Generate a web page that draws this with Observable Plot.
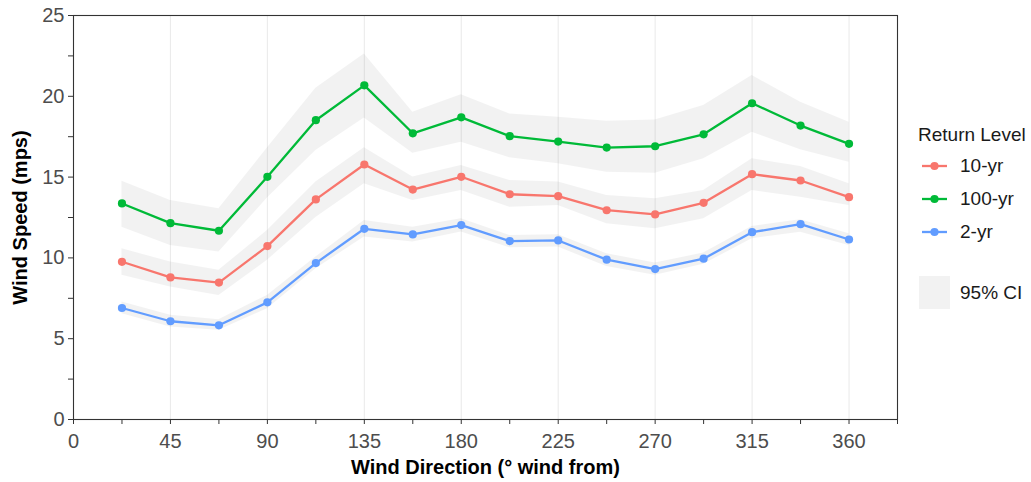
<!DOCTYPE html>
<html>
<head>
<meta charset="utf-8">
<script src="https://cdn.jsdelivr.net/npm/d3@7"></script>
<script src="https://cdn.jsdelivr.net/npm/@observablehq/plot@0.6"></script>
<style>
  body { margin: 0; background: #fff; font-family: "Liberation Sans", Arial, sans-serif; }
  #wrap { position: relative; width: 1031px; height: 482px; }
  #chart { position: absolute; left: 0; top: 0; }
  #chart svg { font-family: "Liberation Sans", Arial, sans-serif; }
  g[aria-label="y-axis label"] text, g[aria-label="x-axis label"] text { font-weight: bold; font-size: 20px; fill: #000; }
  #legend { position: absolute; left: 918px; top: 0; font-size: 19px; color: #1a1a1a; }
  .lg-title { position: absolute; left: 0; top: 124px; white-space: nowrap; }
  .lg-item { position: absolute; left: 0; height: 30px; display: flex; align-items: center; white-space: nowrap; }
  .lg-item svg { margin-right: 10px; }
</style>
</head>
<body>
<div id="wrap">
  <div id="chart"></div>
  <div id="legend"></div>
</div>
<script>
const directions = [22.5, 45, 67.5, 90, 112.5, 135, 157.5, 180, 202.5, 225, 247.5, 270, 292.5, 315, 337.5, 360];

const series = ["10-yr", "100-yr", "2-yr"];
const seriesColors = ["#F8766D", "#00BA38", "#619CFF"];

const rl10  = [9.76, 8.79, 8.47, 10.73, 13.62, 15.78, 14.23, 15.02, 13.94, 13.82, 12.95, 12.69, 13.41, 15.18, 14.79, 13.76];
const lo10  = [8.92, 8.20, 7.68, 9.85, 12.5, 14.59, 13.55, 14.17, 13.14, 13.24, 12.11, 11.80, 12.42, 14.17, 13.76, 13.24];
const hi10  = [10.57, 9.74, 9.23, 11.69, 14.7, 16.81, 15.0, 15.72, 14.79, 14.69, 13.86, 13.66, 14.17, 16.13, 15.66, 14.59];

const rl100 = [13.37, 12.15, 11.68, 15.02, 18.52, 20.68, 17.71, 18.70, 17.53, 17.20, 16.83, 16.91, 17.65, 19.57, 18.19, 17.06];
const lo100 = [11.90, 10.77, 10.36, 13.7, 16.64, 18.66, 16.48, 17.15, 16.19, 15.82, 15.30, 15.24, 16.13, 17.78, 16.69, 15.92];
const hi100 = [14.75, 13.55, 13.04, 16.8, 20.5, 22.62, 19.01, 20.10, 18.91, 18.70, 18.46, 18.54, 19.43, 21.28, 19.63, 18.39];

const rl2   = [6.90, 6.08, 5.83, 7.25, 9.68, 11.80, 11.45, 12.03, 11.04, 11.08, 9.89, 9.31, 9.95, 11.59, 12.09, 11.14];
const lo2   = [6.55, 5.72, 5.52, 6.86, 9.33, 11.29, 10.98, 11.6, 10.63, 10.67, 9.47, 8.92, 9.60, 11.19, 11.59, 10.77];
const hi2   = [7.27, 6.45, 6.18, 7.68, 10.05, 12.32, 11.9, 12.42, 11.39, 11.43, 10.26, 9.68, 10.30, 11.95, 12.36, 11.50];

const xMajorTicks = [0, 45, 90, 135, 180, 225, 270, 315, 360];
const xMinorTicks = [22.5, 67.5, 112.5, 157.5, 202.5, 247.5, 292.5, 337.5, 382.5];
const xGridTicks  = [45, 90, 135, 180, 225, 270, 315, 360];
const yMajorTicks = [0, 5, 10, 15, 20, 25];
const yMinorTicks = [2.5, 7.5, 12.5, 17.5, 22.5];

const xLabel = "Wind Direction (° wind from)";
const yLabel = "Wind Speed (mps)";
const legendTitle = "Return Level";
const ciLabel = "95% CI";

const valueSets = {"10-yr": [rl10, lo10, hi10], "100-yr": [rl100, lo100, hi100], "2-yr": [rl2, lo2, hi2]};
const data = [];
for (const s of series) {
  const [v, lo, hi] = valueSets[s];
  directions.forEach((d, i) => data.push({dir: d, series: s, value: v[i], lo: lo[i], hi: hi[i]}));
}

const tickColor = "#4d4d4d";
const chart = Plot.plot({
  width: 905,
  height: 482,
  marginLeft: 73,
  marginRight: 8,
  marginTop: 15,
  marginBottom: 63,
  style: {fontFamily: "Liberation Sans, Arial, sans-serif", background: "white"},
  x: {domain: [0, 382.5]},
  y: {domain: [0, 25]},
  color: {domain: series, range: seriesColors},
  marks: [
    Plot.gridX(xGridTicks, {stroke: "#ebebeb", strokeOpacity: 1, strokeWidth: 1.1}),
    Plot.areaY(data, {x: "dir", y1: "lo", y2: "hi", z: "series", fill: "#808080", fillOpacity: 0.1}),
    Plot.line(data, {x: "dir", y: "value", stroke: "series", strokeWidth: 2.3}),
    Plot.dot(data, {x: "dir", y: "value", fill: "series", r: 4.1}),
    Plot.frame({stroke: "#333333", strokeWidth: 1.1}),
    Plot.axisY(yMajorTicks, {tickSize: 5, tickPadding: 4, fontSize: 20, color: tickColor, stroke: "#333", label: yLabel, labelAnchor: "center", labelArrow: "none", labelOffset: 61}),
    Plot.axisY(yMinorTicks, {tickSize: 5, text: null, stroke: "#333", label: null}),
    Plot.axisX(xMajorTicks, {tickSize: 5, tickPadding: 9, fontSize: 20, color: tickColor, stroke: "#333", label: xLabel, labelAnchor: "center", labelArrow: "none", labelOffset: 54}),
    Plot.axisX(xMinorTicks, {tickSize: 5, text: null, stroke: "#333", label: null})
  ]
});
document.getElementById("chart").appendChild(chart);

// legend
const legend = document.getElementById("legend");
const title = document.createElement("div");
title.className = "lg-title";
title.textContent = legendTitle;
legend.appendChild(title);
const itemCenters = [166, 199, 232];
series.forEach((s, i) => {
  const it = document.createElement("div");
  it.className = "lg-item";
  it.style.top = (itemCenters[i] - 15) + "px";
  it.innerHTML = `<svg width="32" height="30"><line x1="4" x2="29" y1="15" y2="15" stroke="${seriesColors[i]}" stroke-width="2.3"/><circle cx="16.5" cy="15" r="4.1" fill="${seriesColors[i]}"/></svg><span>${s}</span>`;
  legend.appendChild(it);
});
const ci = document.createElement("div");
ci.className = "lg-item";
ci.style.top = (293 - 17) + "px";
ci.style.height = "34px";
ci.innerHTML = `<svg width="32" height="34"><rect x="1" y="0" width="31" height="33" fill="#808080" fill-opacity="0.1"/></svg><span>${ciLabel}</span>`;
legend.appendChild(ci);
</script>
</body>
</html>
